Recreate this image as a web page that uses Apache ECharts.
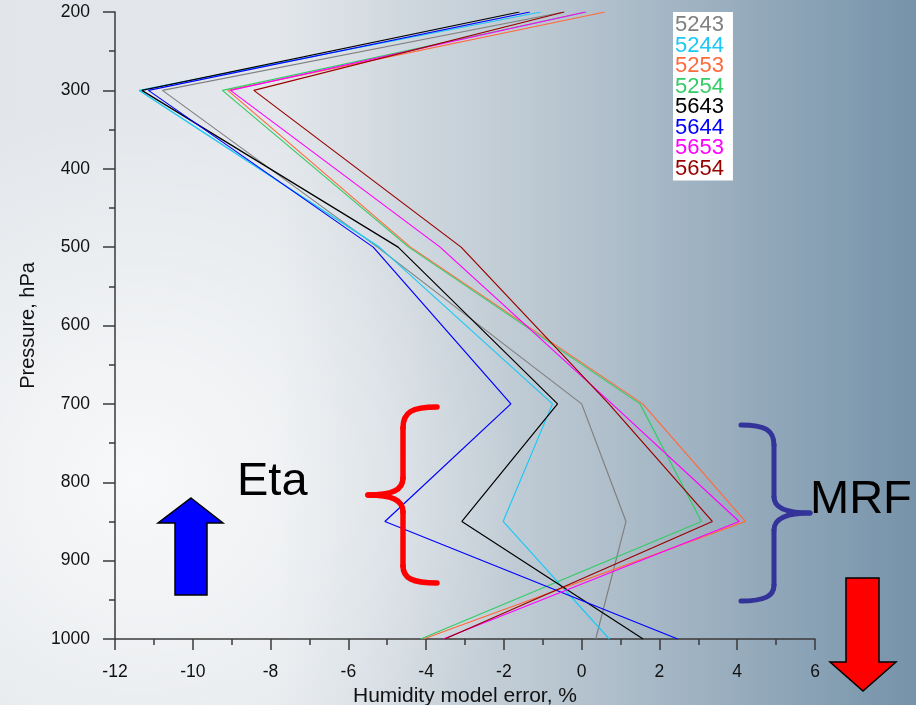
<!DOCTYPE html>
<html>
<head>
<meta charset="utf-8">
<script src="https://cdn.jsdelivr.net/npm/echarts@6/dist/echarts.min.js"></script>
<style>
html,body{margin:0;padding:0;}
#chart{width:916px;height:705px;}
</style>
</head>
<body>
<div id="chart"></div>
<script>
// Pressure levels (hPa)
const pressureLevels = [200, 300, 500, 700, 850, 1000];
// Humidity model error (%) per station/model run
const seriesNames = ['5243', '5244', '5253', '5254', '5643', '5644', '5653', '5654'];
const v5243 = [-0.45, -10.78, -5.25, 0.0, 1.14, 0.36];
const v5244 = [-1.05, -11.38, -5.2, -0.75, -2.02, 0.71];
const v5253 = [0.6, -9.1, -4.4, 1.57, 4.21, -4.07];
const v5254 = [0.12, -9.24, -4.45, 1.5, 3.08, -4.14];
const v5643 = [-1.6, -11.31, -4.72, -0.62, -3.08, 1.58];
const v5644 = [-1.33, -11.14, -5.36, -1.82, -5.06, 2.47];
const v5653 = [0.1, -9.03, -3.64, 0.78, 4.05, -3.56];
const v5654 = [-0.45, -8.43, -3.1, 0.7, 3.36, -3.52];
const seriesValues = [v5243, v5244, v5253, v5254, v5643, v5644, v5653, v5654];
const seriesColors = ['#808080', '#1ec8f5', '#ff6a3d', '#33cc66', '#000000', '#0000ff', '#ff00ff', '#990000'];
const xTicks = [-12, -10, -8, -6, -4, -2, 0, 2, 4, 6];
const yTicks = [200, 300, 400, 500, 600, 700, 800, 900, 1000];

const FONT = '"Liberation Sans", Arial, sans-serif';
const chart = echarts.init(document.getElementById('chart'));

const series = seriesNames.map((name, i) => ({
  name: name,
  type: 'line',
  symbol: 'none',
  silent: true,
  lineStyle: { color: seriesColors[i], width: 1.2 },
  itemStyle: { color: seriesColors[i] },
  data: pressureLevels.map((p, j) => [seriesValues[i][j], p]),
  z: 3
}));

// Brace decorations built from bezier and straight segments
function brace(segs, color, width) {
  return segs.map(s => {
    if (s.length === 4) {
      return { type: 'line', z: 10, silent: true,
        shape: { x1: s[0], y1: s[1], x2: s[2], y2: s[3] },
        style: { stroke: color, lineWidth: width, lineCap: 'round' } };
    }
    return { type: 'bezierCurve', z: 10, silent: true,
      shape: { x1: s[0], y1: s[1], cpx1: s[2], cpy1: s[3], cpx2: s[4], cpy2: s[5], x2: s[6], y2: s[7] },
      style: { stroke: color, fill: null, lineWidth: width, lineCap: 'round' } };
  });
}
const redBrace = brace([
  [437, 407, 412, 407, 403, 412, 403, 428],
  [403, 428, 403, 478],
  [403, 478, 403, 490, 392, 495, 368, 495],
  [368, 495, 392, 495, 403, 500, 403, 512],
  [403, 512, 403, 566],
  [403, 566, 403, 578, 412, 583, 437, 583]
], '#ff0000', 5.5);
const blueBrace = brace([
  [741, 425, 765, 425, 774, 430, 774, 445],
  [774, 445, 774, 497],
  [774, 497, 774, 508, 786, 513, 810, 513],
  [810, 513, 786, 513, 774, 518, 774, 530],
  [774, 530, 774, 585],
  [774, 585, 774, 596, 765, 601, 741, 601]
], '#333399', 5);

const option = {
  animation: false,
  backgroundColor: new echarts.graphic.LinearGradient(0, 0, 1, 0, [
    { offset: 0, color: '#e2e6ea' },
    { offset: 0.3, color: '#e3e7eb' },
    { offset: 0.6, color: '#bac7d1' },
    { offset: 1, color: '#7693aa' }
  ]),
  grid: { left: 115, right: 101, top: 12, bottom: 66, containLabel: false, outerBoundsMode: 'none' },
  xAxis: {
    type: 'value',
    min: xTicks[0], max: xTicks[xTicks.length - 1], interval: 2,
    name: 'Humidity model error, %',
    nameLocation: 'middle', nameGap: 39,
    nameTextStyle: { fontFamily: FONT, fontSize: 21, color: '#111' },
    axisLine: { show: true, onZero: false, lineStyle: { color: '#3a3a3a', width: 1.5 } },
    axisTick: { show: true, inside: false, length: 11, lineStyle: { color: '#3a3a3a', width: 1.5 } },
    minorTick: { show: true, splitNumber: 2, length: 6, lineStyle: { color: '#3a3a3a', width: 1.5 } },
    axisLabel: { fontFamily: FONT, fontSize: 17.5, color: '#111', margin: 24 },
    splitLine: { show: false }
  },
  yAxis: {
    type: 'value',
    inverse: true,
    min: yTicks[0], max: yTicks[yTicks.length - 1], interval: 100,
    name: 'Pressure, hPa',
    nameLocation: 'middle', nameGap: 77, nameRotate: 90,
    nameTextStyle: { fontFamily: FONT, fontSize: 20, color: '#111' },
    axisLine: { show: true, onZero: false, lineStyle: { color: '#3a3a3a', width: 1.5 } },
    axisTick: { show: true, inside: false, length: 12, lineStyle: { color: '#3a3a3a', width: 1.5 } },
    minorTick: { show: true, splitNumber: 2, length: 6, lineStyle: { color: '#3a3a3a', width: 1.5 } },
    axisLabel: { fontFamily: FONT, fontSize: 17.5, color: '#111', margin: 25, formatter: v => String(v) },
    splitLine: { show: false }
  },
  legend: {
    orient: 'vertical',
    left: 673, top: 12,
    backgroundColor: '#ffffff',
    padding: [2, 9, 1, 2],
    itemGap: -1.5,
    itemWidth: 0, itemHeight: 0,
    icon: 'none',
    selectedMode: false,
    textStyle: { fontFamily: FONT, fontSize: 22, padding: [0, 0, 0, -5] },
    data: seriesNames.map((n, i) => ({ name: n, icon: 'none', textStyle: { color: seriesColors[i] } }))
  },
  graphic: [
    {
      type: 'rect', z: -1, silent: true,
      shape: { x: 0, y: 0, width: 916, height: 705 },
      style: {
        fill: new echarts.graphic.RadialGradient(0.15, 0.68, 0.55, [
          { offset: 0, color: 'rgba(255,255,255,0.75)' },
          { offset: 1, color: 'rgba(255,255,255,0)' }
        ])
      }
    },
    {
      type: 'text', z: 10, x: 237, y: 459, silent: true,
      style: { text: 'Eta', font: '47px "Liberation Sans", Arial, sans-serif', fill: '#000' }
    },
    {
      type: 'text', z: 10, x: 810, y: 477, silent: true,
      style: { text: 'MRF', font: '47px "Liberation Sans", Arial, sans-serif', fill: '#000' }
    },
    {
      type: 'polygon', z: 10, silent: true,
      shape: { points: [[191, 498], [223, 523], [207, 523], [207, 595], [175, 595], [175, 523], [158, 523]] },
      style: { fill: '#0000ff', stroke: '#000', lineWidth: 1.5 }
    },
    {
      type: 'polygon', z: 10, silent: true,
      shape: { points: [[846, 578], [879, 578], [879, 662], [896, 662], [863, 691], [830, 662], [846, 662]] },
      style: { fill: '#ff0000', stroke: '#000', lineWidth: 1.5 }
    }
  ].concat(redBrace, blueBrace),
  series: series
};
chart.setOption(option);
</script>
</body>
</html>
